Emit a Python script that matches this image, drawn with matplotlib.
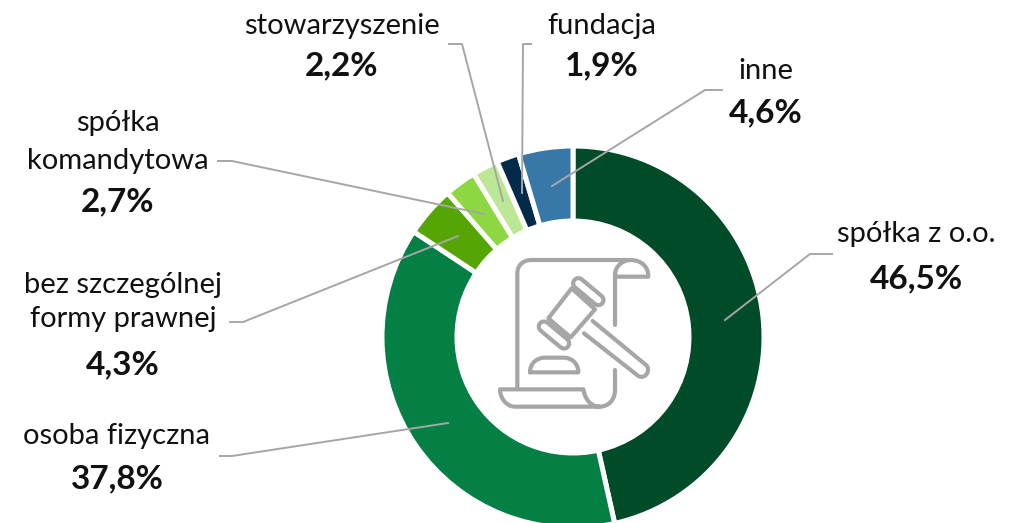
# donut chart - forma prawna

import matplotlib
matplotlib.use("Agg")
import matplotlib.pyplot as plt
from matplotlib.patches import PathPatch, Polygon
from matplotlib.path import Path

# --- Data ---
categories = ["spółka z o.o.", "osoba fizyczna", "bez szczególnej\nformy prawnej",
              "spółka\nkomandytowa", "stowarzyszenie", "fundacja", "inne"]
values = [46.5, 37.8, 4.3, 2.7, 2.2, 1.9, 4.6]
value_labels = ["46,5%", "37,8%", "4,3%", "2,7%", "2,2%", "1,9%", "4,6%"]

# --- Style ---
colors = ["#004B28", "#058045", "#55A605", "#8CD742", "#BCE896", "#032B49", "#3878A8"]
GREY = "#A6A6A6"
W, H = 1020, 523
CX, CY = 573, 337
R, R_IN = 191, 116

# label anchors (center x, y of name, y of value), in image pixels
label_pos = [(916, 234, 279), (117, 436, 479), (123, 302, 365),
             (118, 142, 202), (342, 26, 66), (602, 26, 66), (766, 71, 113)]
label_spacing = [1.4, 1.4, 1.35, 1.55, 1.4, 1.4, 1.4]
# leader lines in image pixels
leaders = [
    [(832, 254), (810, 254), (725, 320)],
    [(220, 456), (232, 456), (448, 423)],
    [(230, 322), (243, 322), (458, 236)],
    [(218, 161), (232, 161), (484, 214)],
    [(449, 44), (462, 44), (503, 201)],
    [(531, 44), (523, 44), (522, 193)],
    [(722, 90), (705, 90), (552, 186)],
]

plt.rcParams["font.family"] = ["Lato", "DejaVu Sans"]

fig = plt.figure(figsize=(W / 100, H / 100), dpi=100)
ax = fig.add_axes([0, 0, 1, 1])

# y axis is flipped so counterclock=True runs clockwise on screen
ax.pie(values, colors=colors, center=(CX, CY), radius=R, startangle=-90,
       counterclock=True, frame=True,
       wedgeprops=dict(width=R - R_IN, edgecolor="white", linewidth=3.6))
ax.set_xlim(0, W)
ax.set_ylim(H, 0)
ax.set_aspect("equal")
ax.axis("off")

# --- Leaders + labels ---
for pts in leaders:
    ax.plot([p[0] for p in pts], [p[1] for p in pts], color=GREY, lw=1.4, zorder=5)

for name, val, (x, y1, y2), sp in zip(categories, value_labels, label_pos, label_spacing):
    ax.text(x, y1, name, ha="center", va="center", fontsize=21, color="#111111", linespacing=sp)
    ax.text(x, y2, val, ha="center", va="center", fontsize=24, fontweight="bold", color="#111111")


# --- Gavel icon (coords from the 3x crop at 480,230) ---
def z(x, y):
    return (480 + x / 3, 230 + y / 3)


def stroke(pts, codes=None):
    pts = [z(*p) for p in pts]
    ax.add_patch(PathPatch(Path(pts, codes), facecolor="none", edgecolor=GREY, lw=3,
                           capstyle="round", joinstyle="round", zorder=6))


M, L, C = Path.MOVETO, Path.LINETO, Path.CURVE4
# paper
stroke([(112, 475), (112, 130), (112, 105), (130, 90), (155, 90), (450, 90),
        (485, 90), (505, 110), (505, 140), (405, 140)],
       [M, L, C, C, C, L, C, C, C, L])
stroke([(405, 285), (405, 135), (405, 110), (425, 92), (450, 90)], [M, L, C, C, C])
stroke([(405, 420), (405, 480), (405, 510), (385, 530), (358, 530), (105, 530),
        (80, 530), (60, 505), (60, 478), (310, 478), (315, 510), (335, 530), (358, 530)],
       [M, L, C, C, C, L, C, C, C, L, C, C, C])
# hammer head + caps
ax.add_patch(Polygon([z(275, 175), z(345, 238), z(272, 322), z(205, 265)], closed=True,
                     fill=False, edgecolor=GREY, lw=3, joinstyle="round", zorder=6))
for (x0, y0), (x1, y1) in [((295, 160), (355, 210)), ((192, 290), (252, 340))]:
    ax.plot(*zip(z(x0, y0), z(x1, y1)), color=GREY, lw=10.5, solid_capstyle="round", zorder=6)
    ax.plot(*zip(z(x0, y0), z(x1, y1)), color="white", lw=4.5, solid_capstyle="round", zorder=7)
# handle
stroke([(338, 273), (498, 405), (515, 420), (495, 450), (475, 438), (312, 310)],
       [M, L, C, C, C, L])
# block
stroke([(150, 427), (295, 427), (295, 400), (275, 383), (250, 383), (195, 383),
        (170, 383), (150, 400), (150, 427)],
       [M, L, C, C, C, L, C, C, C])

fig.savefig("out.png", dpi=100)
